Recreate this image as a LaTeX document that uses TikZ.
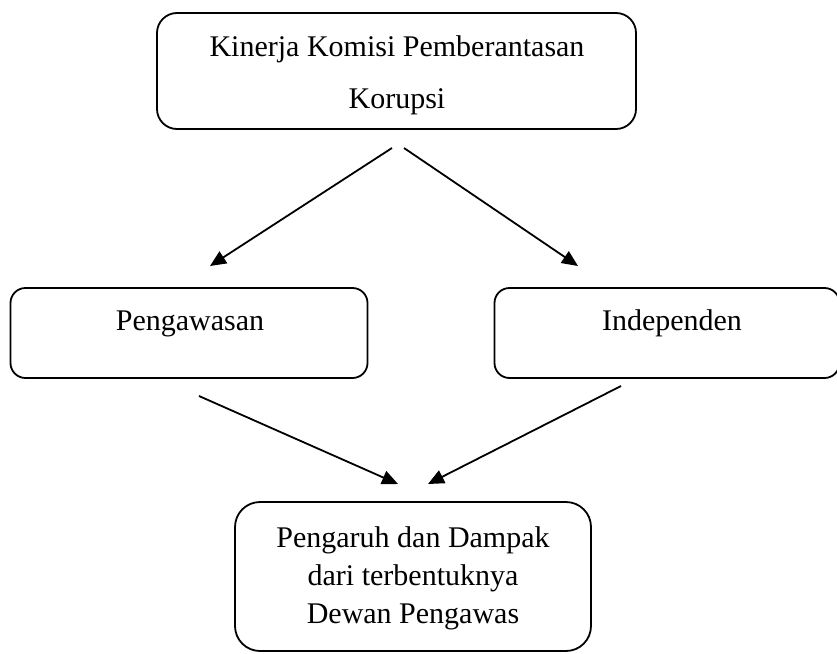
\documentclass[tikz,border=0pt]{standalone}
\usepackage{fontspec}
\setmainfont{Liberation Serif}
\usetikzlibrary{arrows.meta}
\tikzset{
  box/.style={draw=black, line width=1.8pt, rounded corners=#1, inner sep=0pt},
  txt/.style={anchor=base, inner sep=0pt, font=\fontsize{30}{36}\selectfont},
  arr/.style={line width=1.8pt, -{Triangle[length=16pt,width=14pt]}}
}
\begin{document}
\begin{tikzpicture}[x=1pt,y=-1pt]
\useasboundingbox (0,0) rectangle (837,653);
% boxes
\node[box=20pt, minimum width=479pt, minimum height=116pt] (top) at (396.5,71) {};
\node[box=15pt, minimum width=357pt, minimum height=90pt] (peng) at (189,333) {};
\node[box=15pt, minimum width=345pt, minimum height=90pt] (ind) at (667,333) {};
\node[box=25pt, minimum width=356pt, minimum height=149pt] (out) at (413,576.5) {};
% texts
\node[txt] (t1) at (397,56) {Kinerja Komisi Pemberantasan};
\node[txt] (t2) at (397,108) {Korupsi};
\node[txt] (t3) at (190,330) {Pengawasan};
\node[txt] (t4) at (672,330) {Independen};
\node[txt] (t5) at (413,547) {Pengaruh dan Dampak};
\node[txt] (t6) at (413,585) {dari terbentuknya};
\node[txt] (t7) at (413,623) {Dewan Pengawas};
% arrow end points
\coordinate (a1s) at (392,148); \coordinate (a1e) at (210,266);
\coordinate (a2s) at (404,148); \coordinate (a2e) at (578,266);
\coordinate (a3s) at (199,396); \coordinate (a3e) at (398,484);
\coordinate (a4s) at (621,386); \coordinate (a4e) at (428,484);
\draw[arr] (a1s) -- (a1e);
\draw[arr] (a2s) -- (a2e);
\draw[arr] (a3s) -- (a3e);
\draw[arr] (a4s) -- (a4e);
\end{tikzpicture}
\end{document}
